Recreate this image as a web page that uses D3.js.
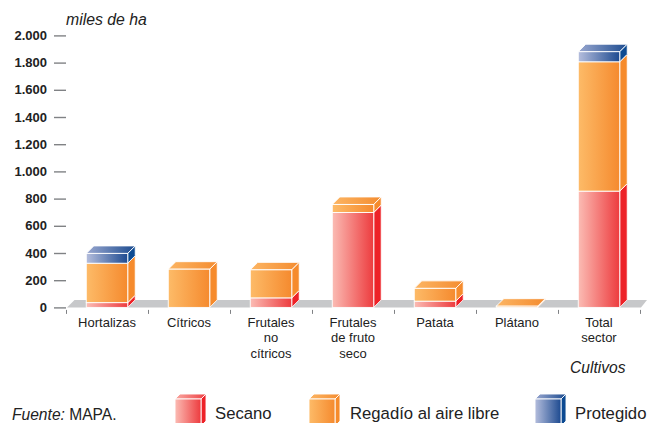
<!DOCTYPE html>
<html><head><meta charset="utf-8">
<script src="https://cdn.jsdelivr.net/npm/d3@7"></script>
<style>html,body{margin:0;padding:0;background:#fff}svg{display:block}text{font-family:"Liberation Sans",Arial,sans-serif;fill:#222}</style>
</head><body><div id="c"></div>
<script>
const categories=["Hortalizas","Cítricos","Frutales no cítricos","Frutales de fruto seco","Patata","Plátano","Total sector"];
const categoryLines=[["Hortalizas"],["Cítricos"],["Frutales","no","cítricos"],["Frutales","de fruto","seco"],["Patata"],["Plátano"],["Total","sector"]];
const secano=[35,0,70,698,46,0,855];
const regadio=[290,281,206,59,94,9,951];
const protegido=[72,0,0,0,0,0,74];
const yTicks=[0,200,400,600,800,1000,1200,1400,1600,1800,2000];
const seriesNames=["Secano","Regadío al aire libre","Protegido"];
const seriesKeys=["s","r","p"];
const palette={s:{a:"#fbbcb4",b:"#ed3b3e",side:"#ed2228",ta:"#f9a9a2",tb:"#ee4044"},
 r:{a:"#fdbb68",b:"#f58a2e",side:"#f68b2c",ta:"#fcb563",tb:"#f48c30"},
 p:{a:"#b5bedd",b:"#1d4a90",side:"#0c4a92",ta:"#9aa8d0",tb:"#1d4c90"}};

const W=647,H=423,D=7.5;
const svg=d3.select("#c").append("svg").attr("width",W).attr("height",H);
const y=d3.scaleLinear().domain([0,2000]).range([307.4,35.4]);
const x=d3.scaleBand().domain(categories).range([66,640]).paddingInner(0.494).paddingOuter(0.247);
const edge=d3.scaleLinear().domain([0,categories.length]).range([66,640]);

const defs=svg.append("defs");
seriesKeys.forEach(k=>{
 const p=palette[k];
 [["f",p.a,p.b],["t",p.ta,p.tb]].forEach(([n,c1,c2])=>{
  const g=defs.append("linearGradient").attr("id",k+n);
  g.append("stop").attr("offset",0).attr("stop-color",c1);
  g.append("stop").attr("offset",1).attr("stop-color",c2);
 });
});

// floor
const y0=y(0);
svg.append("polygon").attr("fill","#c7c8ca")
 .attr("points",[[edge(0)+1,y0],[edge(0)+1+D,y0-D],[W,y0-D],[edge(7)+1,y0]].join(" "));

// value axis
const ya=svg.append("g").attr("transform","translate(66,0)")
 .call(d3.axisLeft(y).tickValues(yTicks).tickSize(12).tickPadding(7)
 .tickFormat(v=>v>=1000?Math.floor(v/1000)+"."+String(v%1000).padStart(3,"0"):String(v)));
ya.select(".domain").remove();
ya.selectAll("line").attr("stroke","#808285").attr("stroke-width",1.4);
ya.selectAll("text").style("font-size","13px").style("font-weight","bold").attr("fill","#222");

// category ticks
const xa=svg.append("g").attr("transform",`translate(0,${y0+2.5})`)
 .call(d3.axisBottom(edge).tickValues(d3.range(categories.length+1)).tickSize(4).tickSizeOuter(0).tickFormat(""));
xa.select(".domain").remove();
xa.selectAll("line").attr("stroke","#808285").attr("stroke-width",1);

// bars
function box(g,x0,w,top,bot,k,d,showTop){
 if(showTop) g.append("polygon").attr("fill",`url(#${k}t)`).attr("stroke","#fff").attr("stroke-width",.9)
   .attr("points",[[x0,top],[x0+d,top-d],[x0+w+d,top-d],[x0+w,top]].join(" "));
 g.append("polygon").attr("fill",palette[k].side).attr("stroke","#fff").attr("stroke-width",.9)
   .attr("points",[[x0+w,top],[x0+w+d,top-d],[x0+w+d,bot-d],[x0+w,bot]].join(" "));
 g.append("rect").attr("x",x0).attr("y",top).attr("width",w).attr("height",Math.max(bot-top,0))
   .attr("fill",`url(#${k}f)`).attr("stroke","#fff").attr("stroke-width",.9);
}
categories.forEach((c,i)=>{
 const g=svg.append("g");
 let acc=0;
 const parts=[["s",secano[i]],["r",regadio[i]],["p",protegido[i]]].filter(p=>p[1]>0);
 parts.forEach(([k,v],j)=>{
  box(g,x(c),x.bandwidth(),y(acc+v),y(acc),k,D,j===parts.length-1);
  acc+=v;
 });
});

// category labels
const lab=svg.append("g").attr("text-anchor","middle").style("font-size","13px");
categories.forEach((c,i)=>{
 categoryLines[i].forEach((t,j)=>lab.append("text")
  .attr("x",x(c)+x.bandwidth()/2).attr("y",326.8+j*15.6).text(t));
});

// annotations
svg.append("text").attr("x",66).attr("y",24.5).style("font-size","15.8px").style("font-style","italic").text("miles de ha");
svg.append("text").attr("x",570).attr("y",372.7).style("font-size","15.6px").style("font-style","italic").text("Cultivos");
const f=svg.append("text").attr("x",12).attr("y",419.6).style("font-size","15.6px");
f.append("tspan").style("font-style","italic").text("Fuente:");
f.append("tspan").text(" MAPA.");

// legend
const legendX=[175,309,535],legendTextX=[215,350,575];
seriesKeys.forEach((k,i)=>{
 const g=svg.append("g");
 box(g,legendX[i],26,399,426,k,5,true);
 g.append("text").attr("x",legendTextX[i]).attr("y",419.2).style("font-size","16.7px").text(seriesNames[i]);
});
</script></body></html>
